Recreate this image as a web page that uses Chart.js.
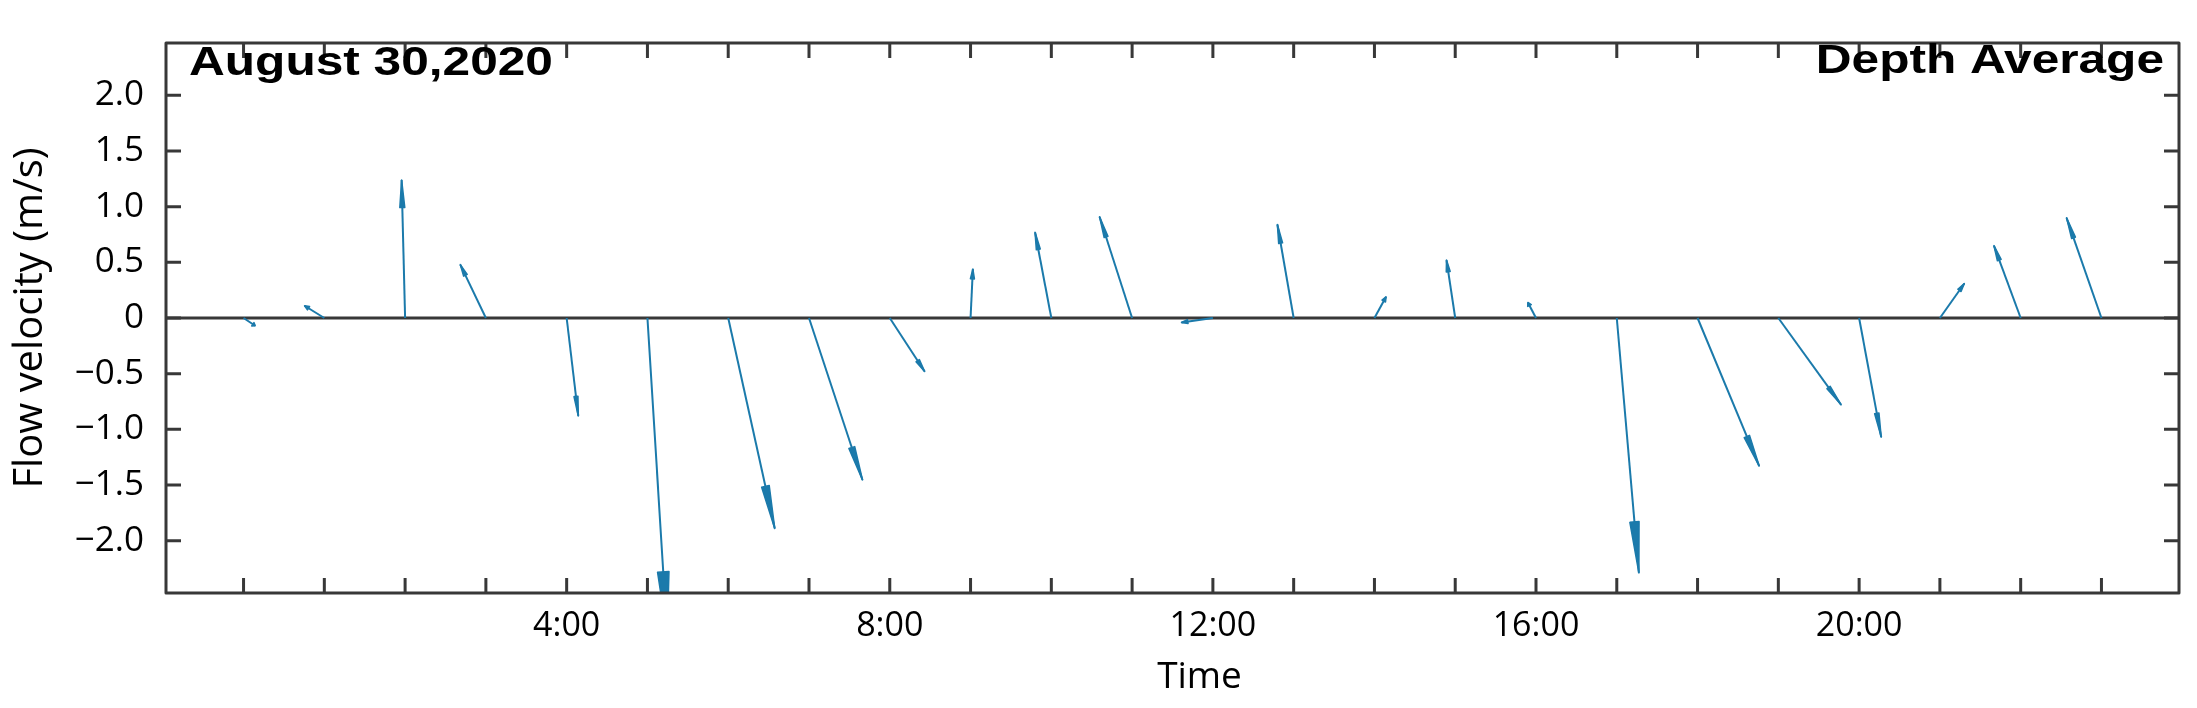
<!DOCTYPE html>
<html>
<head>
<meta charset="utf-8">
<script src="https://cdn.jsdelivr.net/npm/chart.js@4"></script>
<style>
  html, body { margin: 0; padding: 0; background: #fff; }
  canvas { display: block; }
</style>
</head>
<body>
<canvas id="flowChart" width="2197" height="708"></canvas>
<script>
// Hourly depth-averaged flow, August 30 2020 (stick plot)
const hours = [0, 1, 2, 3, 4, 5, 6, 7, 8, 9, 10, 11, 12, 13, 14, 15, 16, 17, 18, 19, 20, 21, 22, 23];
// east (u) and north (v) components, m/s
const uVel = [0.10, -0.17, -0.03, -0.22, 0.10, 0.17, 0.40, 0.46, 0.30, 0.02, -0.14, -0.28,
              -0.27, -0.14, 0.10, -0.075, -0.07, 0.19, 0.53, 0.54, 0.19, 0.21, -0.23, -0.30];
const vVel = [-0.07, 0.11, 1.24, 0.48, -0.88, -2.85, -1.89, -1.455, -0.48, 0.44, 0.77, 0.91,
              -0.04, 0.84, 0.19, 0.52, 0.14, -2.29, -1.33, -0.78, -1.07, 0.31, 0.65, 0.90];

const hourTicks = [0, 1, 2, 3, 4, 5, 6, 7, 8, 9, 10, 11, 12, 13, 14, 15, 16, 17, 18, 19, 20, 21, 22, 23];
const hourTickLabels = ['', '', '', '', '4:00', '', '', '', '8:00', '', '', '', '12:00',
                        '', '', '', '16:00', '', '', '', '20:00', '', '', ''];
const velTicks = [-2, -1.5, -1, -0.5, 0, 0.5, 1, 1.5, 2];
const velTickLabels = ['\u22122.0', '\u22121.5', '\u22121.0', '\u22120.5', '0', '0.5', '1.0', '1.5', '2.0'];

// hours of horizontal offset per 1 m/s of east velocity (keeps sticks isotropic)
const STICK_SCALE = 1.44;
const ARROW_COLOR = '#1b7aab';
const AXIS_COLOR = '#383838';

const datasets = hours.map((h, i) => ({
    data: [{ x: h, y: 0 }, { x: h + uVel[i] * STICK_SCALE, y: vVel[i] }],
    borderColor: ARROW_COLOR,
    borderWidth: 2,
    pointRadius: 0,
    showLine: true,
    tension: 0,
}));

// arrow heads at the end of each stick
const arrowHeads = {
    id: 'arrowHeads',
    afterDatasetsDraw(chart) {
        const { ctx, chartArea: a } = chart;
        ctx.save();
        ctx.beginPath();
        ctx.rect(a.left, a.top, a.right - a.left, a.bottom - a.top);
        ctx.clip();
        ctx.fillStyle = ARROW_COLOR;
        ctx.strokeStyle = ARROW_COLOR;
        ctx.lineWidth = 1.5;
        ctx.lineJoin = 'round';
        chart.data.datasets.forEach((ds, i) => {
            const pts = chart.getDatasetMeta(i).data;
            const p0 = pts[0], p1 = pts[1];
            const dx = p1.x - p0.x, dy = p1.y - p0.y;
            const len = Math.hypot(dx, dy);
            if (len < 1) return;
            const ux = dx / len, uy = dy / len;
            const hl = 0.2 * len;
            const hw = Math.max(2, 0.09 * hl);
            const bx = p1.x - ux * hl, by = p1.y - uy * hl;
            ctx.beginPath();
            ctx.moveTo(p1.x, p1.y);
            ctx.lineTo(bx - uy * hw, by + ux * hw);
            ctx.lineTo(bx + uy * hw, by - ux * hw);
            ctx.closePath();
            ctx.fill();
            ctx.stroke();
        });
        ctx.restore();
    }
};

// box axes with inward ticks, zero line, titles and corner notes
const frame = {
    id: 'frame',
    beforeDatasetsDraw(chart) {
        const { ctx, chartArea: a, scales: { y } } = chart;
        const y0 = y.getPixelForValue(0);
        ctx.save();
        ctx.strokeStyle = AXIS_COLOR;
        ctx.lineWidth = 3;
        ctx.beginPath();
        ctx.moveTo(a.left, y0);
        ctx.lineTo(a.right, y0);
        ctx.stroke();
        ctx.restore();
    },
    afterDraw(chart) {
        const { ctx, chartArea: a, scales: { x, y } } = chart;
        const tick = 15;
        ctx.save();
        ctx.strokeStyle = AXIS_COLOR;
        ctx.lineWidth = 3;
        ctx.lineJoin = 'round';
        ctx.strokeRect(a.left, a.top, a.right - a.left, a.bottom - a.top);
        ctx.beginPath();
        hourTicks.forEach(h => {
            const px = x.getPixelForValue(h);
            ctx.moveTo(px, a.bottom); ctx.lineTo(px, a.bottom - tick);
            ctx.moveTo(px, a.top); ctx.lineTo(px, a.top + tick);
        });
        velTicks.forEach(v => {
            const py = y.getPixelForValue(v);
            ctx.moveTo(a.left, py); ctx.lineTo(a.left + tick, py);
            ctx.moveTo(a.right, py); ctx.lineTo(a.right - tick, py);
        });
        ctx.stroke();

        ctx.fillStyle = '#000';
        // axis titles
        ctx.textAlign = 'center';
        ctx.textBaseline = 'middle';
        ctx.font = '37px "Open Sans", sans-serif';
        ctx.fillText('Time', (a.left + a.right) / 2 + 27, 677);
        ctx.save();
        ctx.font = '40px "Open Sans", sans-serif';
        ctx.translate(31, (a.top + a.bottom) / 2);
        ctx.rotate(-Math.PI / 2);
        ctx.fillText('Flow velocity (m/s)', 0, 0);
        ctx.restore();

        // corner notes (stretched bold, as in the source figure)
        ctx.font = 'bold 40px "Liberation Sans", Arial, sans-serif';
        ctx.textBaseline = 'alphabetic';
        ctx.save();
        ctx.translate(a.left + 23, 75);
        ctx.scale(1.24, 1);
        ctx.textAlign = 'left';
        ctx.fillText('August 30,2020', 0, 0);
        ctx.restore();
        ctx.save();
        ctx.translate(a.right - 15, 73);
        ctx.scale(1.24, 1);
        ctx.textAlign = 'right';
        ctx.fillText('Depth Average', 0, 0);
        ctx.restore();
        ctx.restore();
    }
};

new Chart(document.getElementById('flowChart').getContext('2d'), {
    type: 'scatter',
    data: { datasets },
    options: {
        responsive: false,
        animation: false,
        devicePixelRatio: 1,
        layout: { padding: { top: 18, right: 18, bottom: 0, left: 0 } },
        plugins: { legend: { display: false }, tooltip: { enabled: false } },
        scales: {
            x: {
                type: 'linear',
                min: -0.96,
                max: 23.96,
                afterBuildTicks: (scale) => { scale.ticks = hourTicks.map(v => ({ value: v })); },
                afterFit: (scale) => { scale.height = 115; },
                grid: { display: false, drawTicks: false },
                border: { display: false },
                ticks: {
                    autoSkip: false,
                    maxRotation: 0,
                    padding: 13,
                    color: '#000',
                    font: { family: '"Open Sans", sans-serif', size: 34 },
                    callback: (value) => hourTickLabels[hourTicks.indexOf(value)],
                },
            },
            y: {
                min: -2.47,
                max: 2.47,
                afterBuildTicks: (scale) => { scale.ticks = velTicks.map(v => ({ value: v })); },
                afterFit: (scale) => { scale.width = 166; },
                grid: { display: false, drawTicks: false },
                border: { display: false },
                ticks: {
                    padding: 22,
                    color: '#000',
                    font: { family: '"Open Sans", sans-serif', size: 35 },
                    callback: (value) => velTickLabels[velTicks.indexOf(value)],
                },
            },
        },
    },
    plugins: [frame, arrowHeads],
});
</script>
</body>
</html>
